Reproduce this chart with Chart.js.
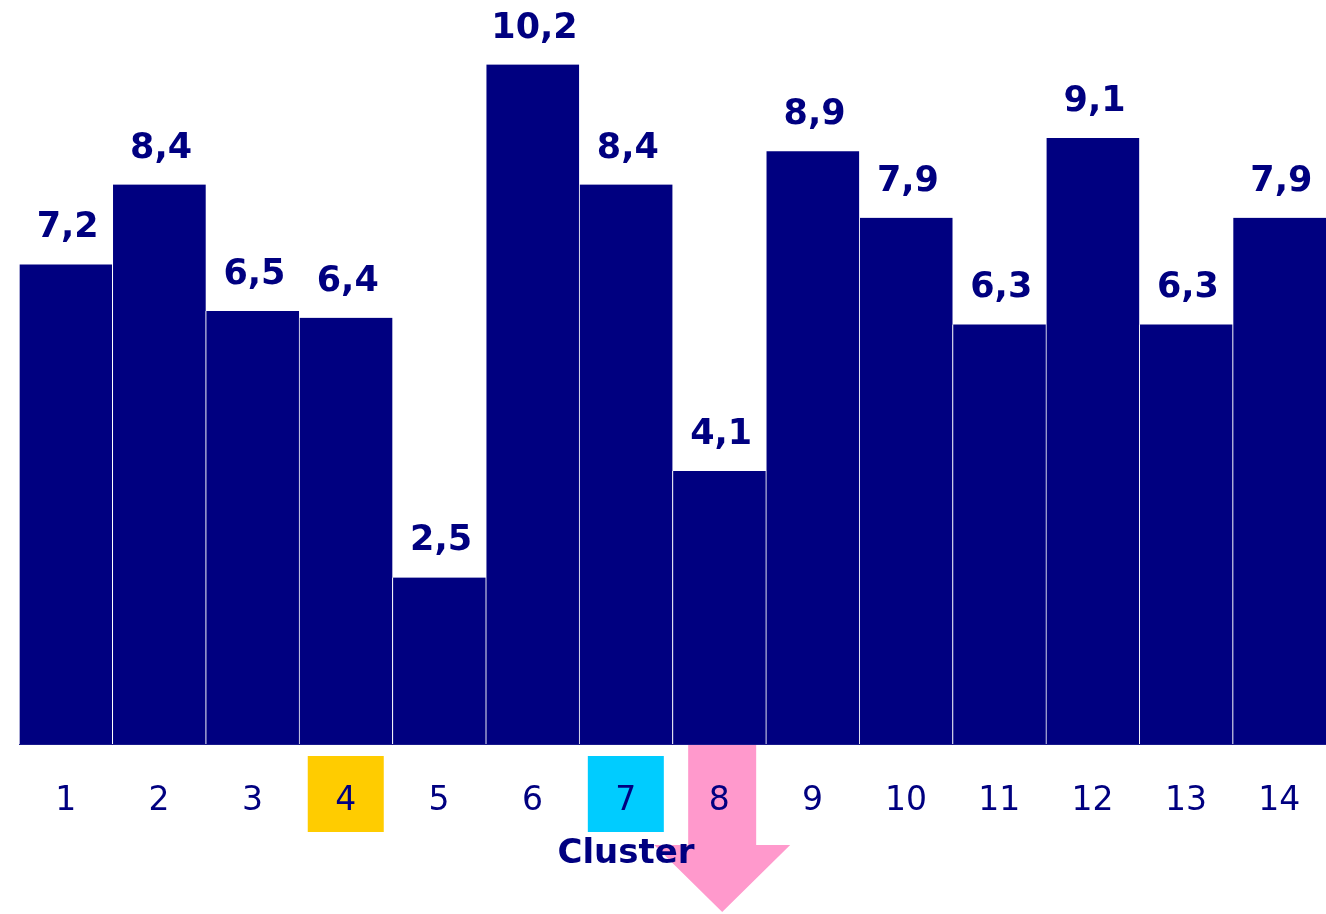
<!DOCTYPE html>
<html>
<head>
<meta charset="utf-8">
<script src="https://cdn.jsdelivr.net/npm/chart.js@4.4.0/dist/chart.umd.min.js"></script>
<style>
  html, body { margin: 0; padding: 0; background: #fff; }
  #wrap { width: 1326px; height: 914px; }
</style>
</head>
<body>
<div id="wrap"><canvas id="clusterChart"></canvas></div>
<script>
// Cluster values
const clusters = ['1', '2', '3', '4', '5', '6', '7', '8', '9', '10', '11', '12', '13', '14'];
const clusterValues = [7.2, 8.4, 6.5, 6.4, 2.5, 10.2, 8.4, 4.1, 8.9, 7.9, 6.3, 9.1, 6.3, 7.9];
const highlighted = { '4': '#ffcc00', '7': '#00ccff' };
const arrowCluster = '8';

const NAVY = '#000080';
const FONT = '"DejaVu Sans", Verdana, sans-serif';

// boxes behind some tick labels + the pink arrow
const markerPlugin = {
    id: 'markers',
    beforeDraw(chart) {
        const ctx = chart.ctx;
        const x = chart.scales.x;
        const top = chart.chartArea.bottom;
        ctx.save();
        Object.keys(highlighted).forEach(function (lbl) {
            const cx = x.getPixelForValue(clusters.indexOf(lbl));
            ctx.fillStyle = highlighted[lbl];
            ctx.fillRect(cx - 38, top + 12, 76, 76);
        });
        const ax = x.getPixelForValue(clusters.indexOf(arrowCluster)) + 3;
        ctx.fillStyle = '#ff99cc';
        ctx.beginPath();
        ctx.moveTo(ax - 34, top);
        ctx.lineTo(ax + 34, top);
        ctx.lineTo(ax + 34, top + 101);
        ctx.lineTo(ax + 68, top + 101);
        ctx.lineTo(ax, top + 168);
        ctx.lineTo(ax - 68, top + 101);
        ctx.lineTo(ax - 34, top + 101);
        ctx.closePath();
        ctx.fill();
        ctx.restore();
    },
    afterDatasetsDraw(chart) {
        const ctx = chart.ctx;
        ctx.save();
        ctx.fillStyle = NAVY;
        ctx.font = 'bold 35px ' + FONT;
        ctx.textAlign = 'center';
        ctx.textBaseline = 'alphabetic';
        chart.getDatasetMeta(0).data.forEach(function (bar, i) {
            const txt = clusterValues[i].toFixed(1).replace('.', ',');
            ctx.fillText(txt, bar.x + 2, bar.y - 27);
        });
        ctx.restore();
    },
    afterDraw(chart) {
        const ctx = chart.ctx;
        ctx.save();
        ctx.fillStyle = NAVY;
        ctx.font = 'bold 34px ' + FONT;
        ctx.textAlign = 'center';
        ctx.textBaseline = 'alphabetic';
        ctx.fillText('Cluster', 626, 863);
        ctx.restore();
    }
};

new Chart(document.getElementById('clusterChart'), {
    type: 'bar',
    data: {
        labels: clusters,
        datasets: [{
            data: clusterValues,
            backgroundColor: NAVY,
            borderColor: '#ffffff',
            borderWidth: { left: 1, right: 0, top: 0, bottom: 0 },
            barPercentage: 1,
            categoryPercentage: 1
        }]
    },
    options: {
        responsive: true,
        maintainAspectRatio: false,
        animation: false,
        layout: { padding: { left: 19, right: 0, top: 0, bottom: 0 } },
        plugins: {
            legend: { display: false },
            tooltip: { enabled: false }
        },
        scales: {
            x: {
                grid: { display: false, drawTicks: false },
                border: { display: true, color: '#1a1a8c', width: 1 },
                ticks: {
                    color: NAVY,
                    font: { family: FONT, size: 33 },
                    padding: 38,
                    maxRotation: 0,
                    autoSkip: false
                },
                afterFit(scale) {
                    scale.height = 170;
                    scale.paddingLeft = 0;
                    scale.paddingRight = 0;
                }
            },
            y: {
                display: false,
                min: 0,
                max: 11.17
            }
        }
    },
    plugins: [markerPlugin]
});
</script>
</body>
</html>
